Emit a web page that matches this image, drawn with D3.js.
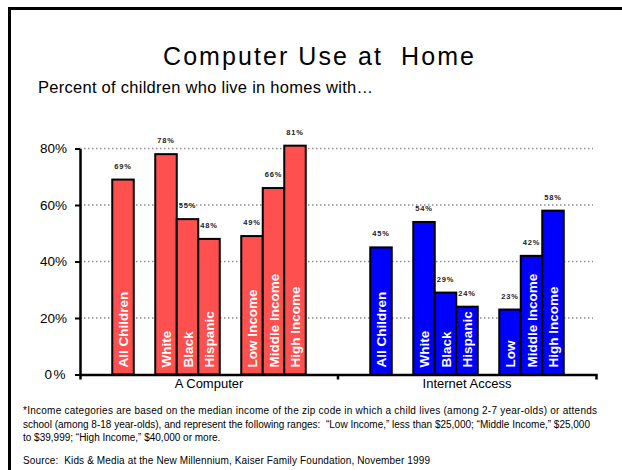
<!DOCTYPE html>
<html>
<head>
<meta charset="utf-8">
<script src="https://cdn.jsdelivr.net/npm/d3@7"></script>
<style>
  body { margin: 0; background: #fff; }
  text { font-family: "Liberation Sans", Arial, sans-serif; white-space: pre; }
</style>
</head>
<body>
<div id="chart"></div>
<script>
// data
var groups = ["A Computer", "Internet Access"];
var categories = ["All Children", "White", "Black", "Hispanic", "Low Income", "Middle Income", "High Income"];
var computerValues = [69, 78, 55, 48, 49, 66, 81];
var internetValues = [45, 54, 29, 24, 23, 42, 58];
var computerLabels = ["All Children", "White", "Black", "Hispanic", "Low Income", "Middle Income", "High Income"];
var internetLabels = ["All Children", "White", "Black", "Hispanic", "Low", "Middle Income", "High Income"];
var yTicks = [0, 20, 40, 60, 80];
var colors = ["#ff5050", "#0000ff"];

var W = 622, H = 470;
var svg = d3.select("#chart").append("svg")
  .attr("width", W).attr("height", H);

// frame
svg.append("path")
  .attr("d", "M9.5,475 L9.5,8.5 L630,8.5")
  .attr("fill", "none").attr("stroke", "#000").attr("stroke-width", 3);

svg.append("text")
  .attr("x", 163).attr("y", 65)
  .attr("font-size", 25)
  .attr("textLength", 311)
  .text("Computer Use at  Home");

svg.append("text")
  .attr("x", 38).attr("y", 93)
  .attr("font-size", 16.5)
  .attr("textLength", 335)
  .text("Percent of children who live in homes with\u2026");

var plotLeft = 80, plotRight = 596, plotBottom = 374.5, plotTop = 148.5;

var y = d3.scaleLinear().domain([0, 80]).range([plotBottom, plotTop]);
var gx = d3.scaleBand().domain(groups).range([plotLeft, plotRight]);

// inner slots with spacer slots between the sub-groups
var slots = ["All Children", "_gap1", "White", "Black", "Hispanic", "_gap2", "Low Income", "Middle Income", "High Income"];
var x = d3.scaleBand().domain(slots).range([0, gx.bandwidth()]).paddingOuter(1.5).paddingInner(0);

// gridlines
svg.append("g").selectAll("line")
  .data(yTicks.slice(1))
  .enter().append("line")
  .attr("x1", plotLeft).attr("x2", plotRight - 3)
  .attr("y1", function(d) { return y(d); })
  .attr("y2", function(d) { return y(d); })
  .attr("stroke", "#8c8c8c")
  .attr("stroke-width", 1.3)
  .attr("stroke-dasharray", "1.5,2.5");

// y axis
var yAxis = svg.append("g")
  .attr("transform", "translate(" + plotLeft + ",0)")
  .call(d3.axisLeft(y).tickValues(yTicks).tickSize(5).tickSizeOuter(0)
    .tickFormat(function(d) { return d + "%"; }));
yAxis.select(".domain").attr("stroke-width", 2.5);
yAxis.selectAll(".tick line").attr("stroke-width", 2);
yAxis.selectAll(".tick text")
  .attr("font-size", 13.5)
  .attr("font-family", "Liberation Sans, Arial, sans-serif")
  .attr("x", -13)
  .attr("fill", "#000")
  .attr("letter-spacing", function(d) { return d === 0 ? 1.5 : 0; });

var allValues = [computerValues, internetValues];
var allLabels = [computerLabels, internetLabels];

groups.forEach(function(g, gi) {
  var data = categories.map(function(c, i) {
    return { cat: c, value: allValues[gi][i], label: allLabels[gi][i] };
  });
  var grp = svg.append("g").attr("transform", "translate(" + gx(g) + ",0)");

  grp.selectAll(".bar")
    .data(data)
    .enter().append("rect")
    .attr("class", "bar")
    .attr("x", function(d) { return x(d.cat); })
    .attr("width", x.bandwidth())
    .attr("y", function(d) { return y(d.value); })
    .attr("height", function(d) { return plotBottom - y(d.value); })
    .attr("fill", colors[gi])
    .attr("stroke", "#000")
    .attr("stroke-width", 2);

  grp.selectAll(".val")
    .data(data)
    .enter().append("text")
    .attr("class", "val")
    .attr("x", function(d) { return x(d.cat) + x.bandwidth() / 2; })
    .attr("y", function(d) { return y(d.value) - 11; })
    .attr("text-anchor", "middle")
    .attr("font-size", 7.5)
    .attr("font-weight", "bold")
    .attr("letter-spacing", 0.8)
    .attr("fill", "#222")
    .text(function(d) { return d.value + "%"; });

  grp.selectAll(".cat")
    .data(data)
    .enter().append("text")
    .attr("class", "cat")
    .attr("transform", function(d) {
      return "translate(" + (x(d.cat) + x.bandwidth() / 2 + 5) + "," + (plotBottom - 7) + ") rotate(-90)";
    })
    .attr("font-size", 13.5)
    .attr("font-weight", "bold")
    .attr("fill", "#fff")
    .text(function(d) { return d.label; });

  svg.append("text")
    .attr("x", gx(g) + gx.bandwidth() / 2)
    .attr("y", 388)
    .attr("text-anchor", "middle")
    .attr("font-size", 13)
    .text(g);
});

// x axis line with group ticks
var xAxis = svg.append("g")
  .attr("transform", "translate(0," + plotBottom + ")")
  .call(d3.axisBottom(gx).tickValues([]).tickSizeOuter(5));
xAxis.select(".domain").attr("stroke-width", 2.5);
xAxis.append("line")
  .attr("x1", gx("Internet Access")).attr("x2", gx("Internet Access"))
  .attr("y1", 0).attr("y2", 5)
  .attr("stroke", "#000").attr("stroke-width", 2.5);

// footnote
var notes = [
  "*Income categories are based on the median income of the zip code in which a child lives (among 2-7 year-olds) or attends",
  "school (among 8-18 year-olds), and represent the following ranges:  \u201cLow Income,\u201d less than $25,000; \u201cMiddle Income,\u201d $25,000",
  "to $39,999; \u201cHigh Income,\u201d $40,000 or more."
];
var noteLen = [574, 0, 0];
svg.append("g").selectAll("text")
  .data(notes)
  .enter().append("text")
  .attr("x", 23)
  .attr("y", function(d, i) { return 414 + i * 13.5; })
  .attr("font-size", 10)
  .attr("textLength", function(d, i) { return noteLen[i] || null; })
  .text(function(d) { return d; });

svg.append("text")
  .attr("x", 23).attr("y", 464)
  .attr("font-size", 10)
  .attr("textLength", 407)
  .text("Source:  Kids & Media at the New Millennium, Kaiser Family Foundation, November 1999");
</script>
</body>
</html>
